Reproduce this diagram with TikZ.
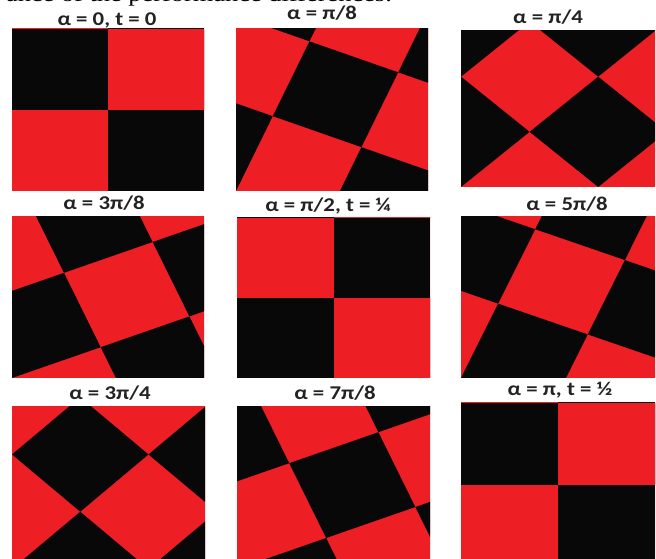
\documentclass[tikz,border=0pt]{standalone}
\usepackage{fontspec}
\usepackage{graphicx}
\setmainfont{Liberation Serif}
\newfontfamily\lblfont{Carlito}
\definecolor{chkred}{RGB}{237,30,36}
\definecolor{chkblack}{RGB}{8,8,8}
\definecolor{lbl}{RGB}{35,35,35}
\tikzset{
  lbltext/.style={inner sep=0pt, anchor=base, text=lbl,
    font=\lblfont\bfseries\fontsize{19.5}{20}\selectfont},
  toptext/.style={inner sep=0pt, anchor=base east, text=black,
    font=\fontsize{22}{24}\selectfont},
}
% #1 x0, #2 Y0 (bottom of unit square), #3 width, #4 height, #5 angle (deg, clockwise)
\newcommand{\chkpanel}[5]{%
  \begin{scope}
    \clip (#1,#2) rectangle ++(#3,#4);
    \begin{scope}[shift={(#1,#2)}, xscale=#3, yscale=#4, rotate=-#5]
      \fill[chkred] (-3,-3) rectangle (3,3);
      \foreach \i in {-6,...,5}{
        \foreach \j in {-6,...,5}{
          \pgfmathtruncatemacro\cpar{mod(\i+\j+100,2)}
          \ifnum\cpar=1 \fill[chkblack] (\i*0.5,\j*0.5) rectangle ++(0.5,0.5);\fi
        }
      }
    \end{scope}
  \end{scope}
}
\begin{document}
\begin{tikzpicture}[x=1pt,y=1pt]
\useasboundingbox (0,0) rectangle (656,559);
\fill[white] (0,0) rectangle (656,559);
% partial text at the top
\node[toptext] (top) at (392,557) {\scalebox{1.2}[1]{ance of the performance differences.}};
% panels
\chkpanel{12}{368}{192}{162}{0}
\chkpanel{236}{368}{192}{162}{22.5}
\chkpanel{461}{372}{194}{156}{45}
\chkpanel{12}{181}{192}{161}{67.5}
\chkpanel{237}{181}{193}{160}{90}
\chkpanel{461}{181}{194}{161}{112.5}
\chkpanel{12}{-10}{193}{162}{135}
\chkpanel{237}{-10}{193}{162}{157.5}
\chkpanel{461}{-8}{194}{164}{180}
% labels
\node[lbltext] (l1) at (107,533) {\scalebox{1.17}[1]{α = 0, t = 0}};
\node[lbltext] (l2) at (322,539) {\scalebox{1.17}[1]{α = π/8}};
\node[lbltext] (l3) at (548,535) {\scalebox{1.17}[1]{α = π/4}};
\node[lbltext] (l4) at (104,349) {\scalebox{1.17}[1]{α = 3π/8}};
\node[lbltext] (l5) at (328,347) {\scalebox{1.17}[1]{α = π/2, t = ¼}};
\node[lbltext] (l6) at (567,348) {\scalebox{1.17}[1]{α = 5π/8}};
\node[lbltext] (l7) at (110,159) {\scalebox{1.17}[1]{α = 3π/4}};
\node[lbltext] (l8) at (335,159) {\scalebox{1.17}[1]{α = 7π/8}};
\node[lbltext] (l9) at (560,163) {\scalebox{1.17}[1]{α = π, t = ½}};
\end{tikzpicture}
\end{document}
